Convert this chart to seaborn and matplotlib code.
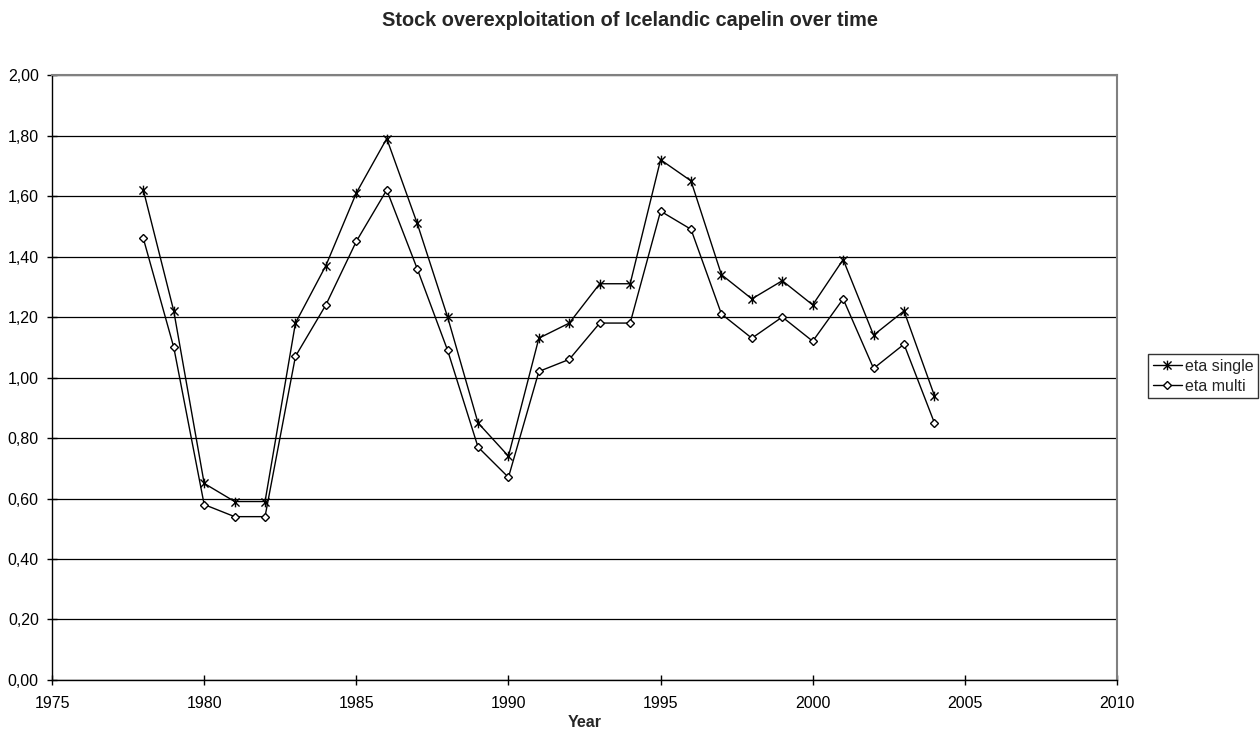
import numpy as np
import pandas as pd
import matplotlib
matplotlib.use("Agg")
import matplotlib.pyplot as plt
from matplotlib.path import Path
from matplotlib.ticker import FuncFormatter, MultipleLocator
import seaborn as sns

years = list(range(1978, 2005))
eta_single = [1.62, 1.22, 0.65, 0.59, 0.59, 1.18, 1.37, 1.61, 1.79, 1.51,
              1.20, 0.85, 0.74, 1.13, 1.18, 1.31, 1.31, 1.72, 1.65, 1.34,
              1.26, 1.32, 1.24, 1.39, 1.14, 1.22, 0.94]
eta_multi = [1.46, 1.10, 0.58, 0.54, 0.54, 1.07, 1.24, 1.45, 1.62, 1.36,
             1.09, 0.77, 0.67, 1.02, 1.06, 1.18, 1.18, 1.55, 1.49, 1.21,
             1.13, 1.20, 1.12, 1.26, 1.03, 1.11, 0.85]
series_names = ["eta single", "eta multi"]

df = pd.DataFrame({
    "Year": years * 2,
    "eta": eta_single + eta_multi,
    "series": [series_names[0]] * len(years) + [series_names[1]] * len(years),
})

sns.set_style("white")
plt.rcParams["font.family"] = ["Liberation Sans", "DejaVu Sans"]

# X-shaped star with a vertical stroke through it
star = Path(
    [(-1, -1), (1, 1), (-1, 1), (1, -1), (0, -1.2), (0, 1.2)],
    [Path.MOVETO, Path.LINETO, Path.MOVETO, Path.LINETO, Path.MOVETO, Path.LINETO],
)

fig = plt.figure(figsize=(12.6, 7.4), dpi=100)
ax = fig.add_axes([0.0413, 0.0811, 0.8452, 0.8175])

sns.lineplot(data=df[df.series == series_names[0]], x="Year", y="eta",
             color="black", lw=1.0, marker=star, markersize=7,
             markeredgewidth=1.0, markerfacecolor="black",
             markeredgecolor="black", label=series_names[0], ax=ax)
sns.lineplot(data=df[df.series == series_names[1]], x="Year", y="eta",
             color="black", lw=1.0, marker="D", markersize=4.5,
             markeredgewidth=1.0, markerfacecolor="white",
             markeredgecolor="black", label=series_names[1], ax=ax)

ax.set_xlim(1975, 2010)
ax.set_ylim(0, 2.0)
ax.xaxis.set_major_locator(MultipleLocator(5))
ax.yaxis.set_major_locator(MultipleLocator(0.2))
ax.yaxis.set_major_formatter(FuncFormatter(lambda v, _: f"{v:.2f}".replace(".", ",")))
ax.xaxis.set_major_formatter(FuncFormatter(lambda v, _: f"{int(round(v))}"))

ax.yaxis.grid(True, color="black", lw=0.9)
ax.xaxis.grid(False)
ax.set_axisbelow(True)
for side in ["top", "right"]:
    ax.spines[side].set_color("#808080")
    ax.spines[side].set_linewidth(1.5)
for side in ["left", "bottom"]:
    ax.spines[side].set_color("black")
    ax.spines[side].set_linewidth(1.0)

ax.tick_params(axis="both", which="major", direction="inout", length=7,
               width=1, color="black", labelsize=11.5, labelcolor="black",
               left=True, bottom=True)
ax.tick_params(axis="y", pad=6)
ax.tick_params(axis="x", pad=8)

ax.set_xlabel("Year", fontsize=11.5, fontweight="bold")
ax.xaxis.set_label_coords(0.5, -0.058)
ax.set_ylabel("")
fig.text(0.5, 1 - 20 / 740, "Stock overexploitation of Icelandic capelin over time",
         fontsize=14.3, fontweight="bold", ha="center", va="center")

leg = ax.legend(loc="upper left", bbox_to_anchor=(1148 / 1260, 1 - 354 / 740),
                bbox_transform=fig.transFigure, frameon=True, fancybox=False,
                fontsize=11.5, handlelength=1.8, handletextpad=0.2,
                borderpad=0.3, labelspacing=0.3, borderaxespad=0)
leg.get_frame().set_edgecolor("black")
leg.get_frame().set_linewidth(1.0)

fig.savefig("out.png", dpi=100, facecolor="white")
